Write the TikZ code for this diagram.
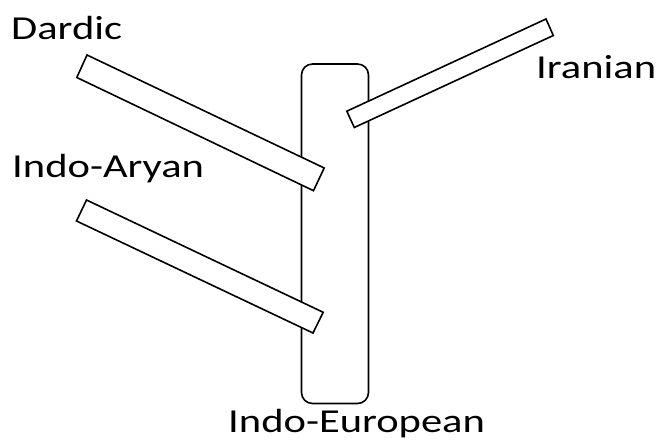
\documentclass[tikz,border=0pt]{standalone}
\usepackage{fontspec}
\setmainfont{Carlito}[FakeStretch=1.27]
\begin{document}
\begin{tikzpicture}[x=1pt,y=-1pt,
  outline/.style={draw=black,line width=1.6pt,line join=miter},
  barshape/.style={outline,fill=white},
  lbl/.style={anchor=base west,inner sep=0pt,font=\fontsize{33.5}{40}\selectfont}]
\useasboundingbox (0,0) rectangle (657,443);
% trunk
\draw[outline,rounded corners=11pt] (301.5,64) rectangle (368.5,403.5);
% branches
\coordinate (d1) at (87.0,55.0);
\coordinate (d2) at (76.8,77.5);
\coordinate (d3) at (313.5,190.7);
\coordinate (d4) at (324.2,168.0);
\draw[barshape] (d1) -- (d2) -- (d3) -- (d4) -- cycle;
\coordinate (a1) at (86.5,200.0);
\coordinate (a2) at (76.5,221.0);
\coordinate (a3) at (313.0,333.0);
\coordinate (a4) at (323.2,312.3);
\draw[barshape] (a1) -- (a2) -- (a3) -- (a4) -- cycle;
\coordinate (i1) at (346.8,111.2);
\coordinate (i2) at (354.3,127.5);
\coordinate (i3) at (553.3,35.5);
\coordinate (i4) at (546.0,19.0);
\draw[barshape] (i1) -- (i2) -- (i3) -- (i4) -- cycle;
% labels
\node[lbl] (dardic) at (11,39.3) {Dardic};
\node[lbl] (indoaryan) at (12,177.3) {Indo-Aryan};
\node[lbl] (iranian) at (536,79) {Iranian};
\node[lbl] (indoeuropean) at (228,432.3) {Indo-European};
\end{tikzpicture}
\end{document}
